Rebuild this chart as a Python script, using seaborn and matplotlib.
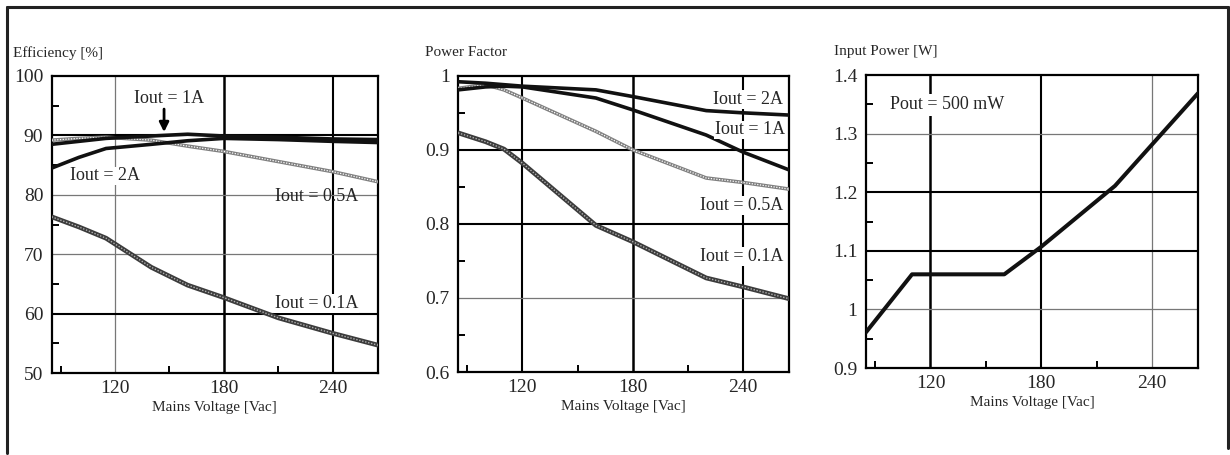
import numpy as np
import pandas as pd
import seaborn as sns
import matplotlib.pyplot as plt
from matplotlib.lines import Line2D

# efficiency vs mains voltage
eff_v = [85, 100, 115, 140, 160, 180, 210, 240, 265]
eff_2a = [84.5, 86.3, 87.8, 88.5, 89.1, 89.5, 89.3, 89.0, 88.8]
eff_1a = [88.5, 89.0, 89.5, 89.9, 90.2, 89.9, 89.7, 89.4, 89.3]
eff_05a = [89.2, 89.5, 89.7, 89.2, 88.2, 87.3, 85.6, 83.9, 82.2]
eff_01a = [76.3, 74.6, 72.7, 67.8, 64.8, 62.7, 59.3, 56.7, 54.7]

# power factor vs mains voltage
pf_v = [85, 100, 110, 120, 160, 180, 220, 240, 265]
pf_2a = [0.992, 0.990, 0.988, 0.986, 0.981, 0.972, 0.953, 0.950, 0.947]
pf_1a = [0.981, 0.985, 0.986, 0.985, 0.970, 0.954, 0.920, 0.897, 0.873]
pf_05a = [0.983, 0.988, 0.981, 0.970, 0.925, 0.900, 0.862, 0.856, 0.847]
pf_01a = [0.923, 0.911, 0.901, 0.882, 0.798, 0.776, 0.727, 0.715, 0.699]

# input power at Pout = 500 mW
pin_v = [85, 110, 160, 180, 220, 265]
pin_w = [0.961, 1.060, 1.060, 1.107, 1.211, 1.369]

x_ticks = [120, 180, 240]
x_minor = [90, 150, 210]
eff_ticks = [50, 60, 70, 80, 90, 100]
eff_labels = ["50", "60", "70", "80", "90", "100"]
pf_ticks = [0.6, 0.7, 0.8, 0.9, 1.0]
pf_labels = ["0.6", "0.7", "0.8", "0.9", "1"]
pin_ticks = [0.9, 1.0, 1.1, 1.2, 1.3, 1.4]
pin_labels = ["0.9", "1", "1.1", "1.2", "1.3", "1.4"]

sns.set_style("white")
plt.rcParams['font.family'] = ['Liberation Serif', 'DejaVu Serif']

fig = plt.figure(figsize=(12.3, 4.55), dpi=100)
ax1 = fig.add_axes([0.042, 0.180, 0.2653, 0.653])
ax2 = fig.add_axes([0.3724, 0.1824, 0.269, 0.651])
ax3 = fig.add_axes([0.704, 0.191, 0.270, 0.644])


def thick(ax, x, y, lw=2.6):
    sns.lineplot(x=x, y=y, ax=ax, color="#111111", lw=lw, zorder=5)


def hatched(ax, x, y, dark=False):
    if dark:
        sns.lineplot(x=x, y=y, ax=ax, color="#3c3c3c", lw=3.4, zorder=4)
        sns.lineplot(x=x, y=y, ax=ax, color="#b0b0b0", lw=1.0,
                     linestyle=(0, (1, 1.2)), zorder=4)
    else:
        sns.lineplot(x=x, y=y, ax=ax, color="#808080", lw=2.6, zorder=4)
        sns.lineplot(x=x, y=y, ax=ax, color="white", lw=0.9,
                     linestyle=(0, (1, 1.2)), zorder=4)


def style_axes(ax, yticks, ylabels, ylim, yminor, xgrid, ygrid):
    ax.set_xlim(85, 265)
    ax.set_ylim(*ylim)
    ax.set_xticks(x_ticks)
    ax.set_xticks(x_minor, minor=True)
    ax.set_yticks(yticks)
    ax.set_yticklabels(ylabels)
    ax.set_yticks(yminor, minor=True)
    ax.tick_params(which='both', bottom=True, left=True)
    ax.tick_params(which='major', length=0, labelsize=14, pad=6)
    ax.tick_params(axis='x', which='major', pad=5)
    ax.tick_params(which='minor', direction='in', length=5, width=1.4,
                   color='black')
    ax.grid(True, which='major')
    for gl, (c, w) in zip(ax.xaxis.get_gridlines(), xgrid):
        gl.set_color(c)
        gl.set_linewidth(w)
    for gl, (c, w) in zip(ax.yaxis.get_gridlines(), ygrid):
        gl.set_color(c)
        gl.set_linewidth(w)
    for s in ax.spines.values():
        s.set_color('black')
        s.set_linewidth(1.6)
    ax.set_xlabel("Mains Voltage [Vac]", fontsize=11, labelpad=3)
    ax.set_ylabel("")


K = ('black', 1.5)
KK = ('black', 1.8)
G = ('#777777', 0.9)
N = ('none', 0)

# panel 1: efficiency
hatched(ax1, eff_v, eff_01a, dark=True)
hatched(ax1, eff_v, eff_05a)
thick(ax1, eff_v, eff_2a)
thick(ax1, eff_v, eff_1a)
style_axes(ax1, eff_ticks, eff_labels, (50, 100), [55, 65, 75, 85, 95],
           [G, KK, K], [N, K, G, G, K, N])
tk = dict(fontsize=13, ha='center', va='center', zorder=6)
ax1.text(149.5, 96.2, "Iout = 1A", **tk)
ax1.annotate("", xy=(147, 90.1), xytext=(147, 94.9),
             arrowprops=dict(arrowstyle='-|>', lw=2, color='black',
                             mutation_scale=14), zorder=6)
ax1.text(114.5, 83.2, "Iout = 2A",
         bbox=dict(facecolor='white', edgecolor='none', pad=0.5), **tk)
ax1.text(231, 79.8, "Iout = 0.5A", **tk)
ax1.text(231, 61.7, "Iout = 0.1A",
         bbox=dict(facecolor='white', edgecolor='none', pad=0.5), **tk)

# panel 2: power factor
hatched(ax2, pf_v, pf_01a, dark=True)
hatched(ax2, pf_v, pf_05a)
thick(ax2, pf_v, pf_1a)
thick(ax2, pf_v, pf_2a)
style_axes(ax2, pf_ticks, pf_labels, (0.6, 1.0),
           [0.65, 0.75, 0.85, 0.95],
           [K, KK, K], [N, G, K, K, N])
rk = dict(fontsize=13, ha='right', va='center', zorder=6,
          bbox=dict(facecolor='white', edgecolor='none', pad=0.5))
ax2.text(262, 0.968, "Iout = 2A", **rk)
ax2.text(263, 0.927, "Iout = 1A", **rk)
ax2.text(262, 0.825, "Iout = 0.5A", **rk)
ax2.text(262, 0.756, "Iout = 0.1A", **rk)

# panel 3: input power
thick(ax3, pin_v, pin_w, lw=2.9)
style_axes(ax3, pin_ticks, pin_labels, (0.9, 1.4),
           [0.95, 1.05, 1.15, 1.25, 1.35],
           [KK, K, G], [N, G, K, K, G, N])
ax3.text(98, 1.349, "Pout = 500 mW", fontsize=13, ha='left', va='center',
         zorder=6, bbox=dict(facecolor='white', edgecolor='none', pad=1.5))

# axis titles above each panel
fig.text(12.7 / 1230, 1 - 53 / 455, "Efficiency [%]", fontsize=11,
         ha='left', va='center')
fig.text(425 / 1230, 1 - 52 / 455, "Power Factor", fontsize=11,
         ha='left', va='center')
fig.text(834 / 1230, 1 - 51 / 455, "Input Power [W]", fontsize=11,
         ha='left', va='center')

# outer frame: left, top, right
for xs, ys in [([7, 7], [7, 453]), ([7, 1228], [7, 7]), ([1228, 1228], [7, 448])]:
    fig.add_artist(Line2D([x / 1230 for x in xs], [1 - y / 455 for y in ys],
                          color='#222222', lw=2.2))

fig.savefig("out.png", dpi=100, facecolor='white')
